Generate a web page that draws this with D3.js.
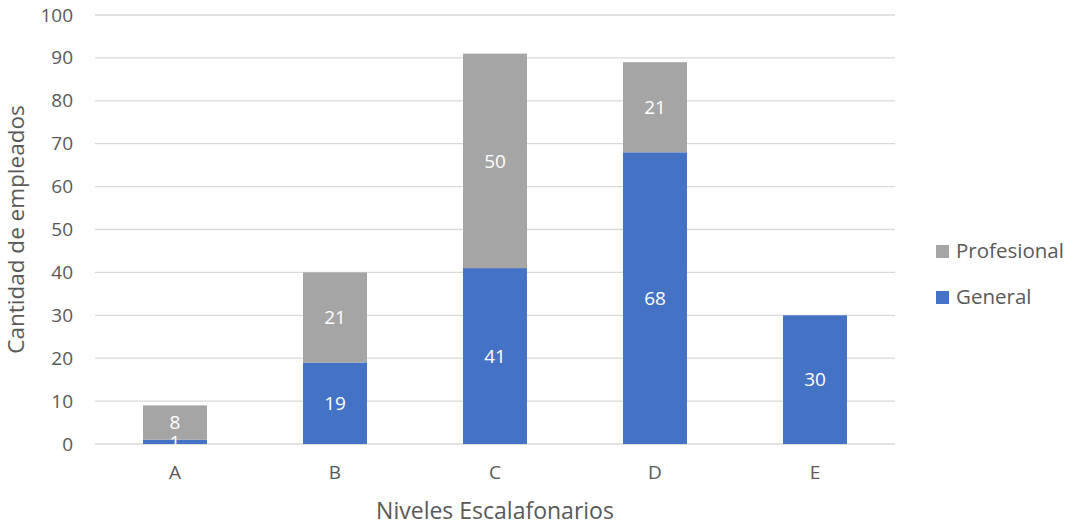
<!DOCTYPE html>
<html>
<head>
<meta charset="utf-8">
<script src="https://cdn.jsdelivr.net/npm/d3@7"></script>
<style>
  body { margin: 0; background: #fff; }
  svg text { font-family: "Open Sans", "Noto Sans", sans-serif; }
</style>
</head>
<body>
<svg id="chart" width="1066" height="525"></svg>
<script>
// Employees per salary level, split by staff type
const categories = ["A", "B", "C", "D", "E"];
const general = [1, 19, 41, 68, 30];
const profesional = [8, 21, 50, 21, 0];
const yTicks = [0, 10, 20, 30, 40, 50, 60, 70, 80, 90, 100];
const seriesNames = ["General", "Profesional"];
const seriesColors = ["#4472C4", "#A5A5A5"];

const svg = d3.select("#chart");
const margin = { left: 95, right: 171, top: 15, bottom: 81 };
const W = 1066, H = 525;

const x = d3.scaleBand().domain(categories)
  .range([margin.left, W - margin.right]).paddingInner(0.6).paddingOuter(0.3);
const y = d3.scaleLinear().domain([0, 100]).range([H - margin.bottom, margin.top]);

const textColor = "#595959";

// Gridlines
svg.append("g").selectAll("line").data(yTicks).join("line")
  .attr("x1", margin.left).attr("x2", W - margin.right)
  .attr("y1", d => y(d)).attr("y2", d => y(d))
  .attr("stroke", "#d9d9d9").attr("stroke-width", 1.3);

// Y axis tick labels
const yAxis = svg.append("g").attr("transform", `translate(${margin.left},0)`)
  .call(d3.axisLeft(y).tickValues(yTicks).tickSize(0).tickPadding(22));
yAxis.select(".domain").remove();
yAxis.selectAll("text").attr("fill", textColor).style("font-size", "19px")
  .style("font-family", "'Open Sans', sans-serif");

// X axis category labels
const xAxis = svg.append("g").attr("transform", `translate(0,${y(0)})`)
  .call(d3.axisBottom(x).tickSize(0).tickPadding(22));
xAxis.select(".domain").remove();
xAxis.selectAll("text").attr("fill", textColor).style("font-size", "19px")
  .style("font-family", "'Open Sans', sans-serif");

// Stacked data
const rows = categories.map((c, i) => ({ cat: c, General: general[i], Profesional: profesional[i] }));
const stacked = d3.stack().keys(seriesNames)(rows);

const groups = svg.append("g").selectAll("g").data(stacked).join("g")
  .attr("fill", (d, i) => seriesColors[i]);

groups.selectAll("rect").data(d => d.filter(s => s[1] - s[0] > 0)).join("rect")
  .attr("x", d => x(d.data.cat))
  .attr("width", x.bandwidth())
  .attr("y", d => y(d[1]))
  .attr("height", d => y(d[0]) - y(d[1]));

// Value labels
const labels = svg.append("g");
stacked.forEach(layer => {
  layer.forEach(s => {
    const v = s[1] - s[0];
    if (v <= 0) return;
    labels.append("text")
      .attr("x", x(s.data.cat) + x.bandwidth() / 2)
      .attr("y", y((s[0] + s[1]) / 2))
      .attr("dy", "0.35em")
      .attr("text-anchor", "middle")
      .attr("fill", "#ffffff")
      .style("font-size", "19px")
      .text(v);
  });
});

// Axis titles
svg.append("text")
  .attr("transform", `translate(16,${(y(0) + y(100)) / 2}) rotate(-90)`)
  .attr("text-anchor", "middle").attr("dy", "0.35em")
  .attr("fill", textColor).style("font-size", "22.5px")
  .text("Cantidad de empleados");

svg.append("text")
  .attr("x", (margin.left + W - margin.right) / 2).attr("y", 519)
  .attr("text-anchor", "middle")
  .attr("fill", textColor).style("font-size", "23px")
  .text("Niveles Escalafonarios");

// Legend (Profesional on top)
const legendItems = [
  { name: "Profesional", color: seriesColors[1], cy: 251 },
  { name: "General", color: seriesColors[0], cy: 297 }
];
const legend = svg.append("g").selectAll("g").data(legendItems).join("g");
legend.append("rect")
  .attr("x", 936).attr("y", d => d.cy - 6).attr("width", 13).attr("height", 13)
  .attr("fill", d => d.color);
legend.append("text")
  .attr("x", 956).attr("y", d => d.cy).attr("dy", "0.35em")
  .attr("fill", textColor).style("font-size", "20.5px")
  .text(d => d.name);
</script>
</body>
</html>
